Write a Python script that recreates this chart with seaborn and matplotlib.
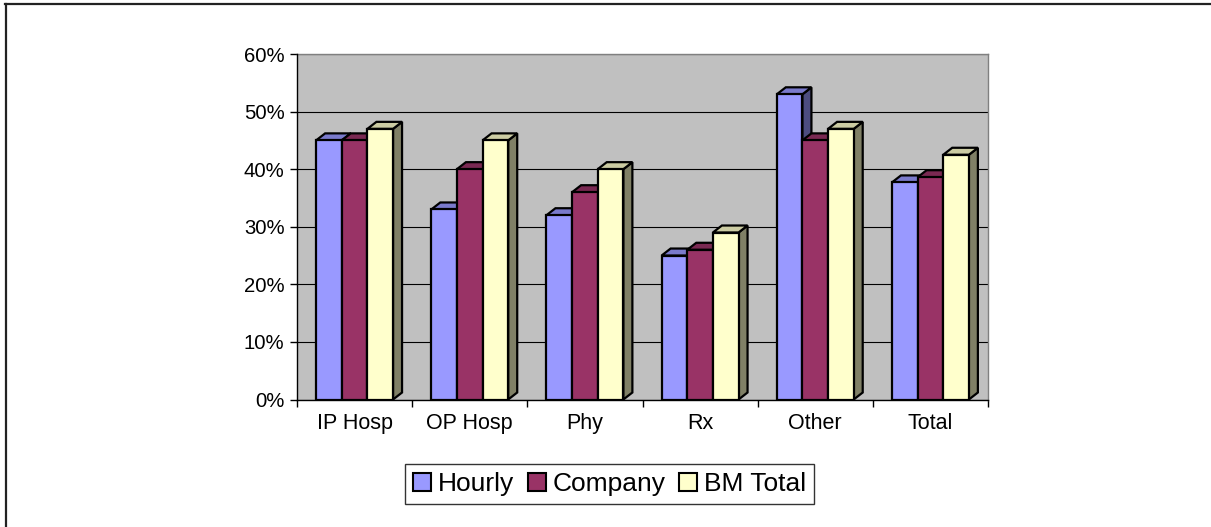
import numpy as np
import pandas as pd
import matplotlib
matplotlib.use("Agg")
import matplotlib.pyplot as plt
import seaborn as sns
from matplotlib.patches import Polygon, Patch
from matplotlib.ticker import PercentFormatter, FixedLocator
from matplotlib.lines import Line2D
import matplotlib.colors as mcolors

# ---- data ----
categories = ["IP Hosp", "OP Hosp", "Phy", "Rx", "Other", "Total"]
series_names = ["Hourly", "Company", "BM Total"]
hourly = [45, 33, 32, 25, 53, 37.7]
company = [45, 40, 36, 26, 45, 38.6]
bm_total = [47, 45, 40, 29, 47, 42.5]
y_ticks = [0, 10, 20, 30, 40, 50, 60]

colors = ["#9999FF", "#993366", "#FFFFCC"]

df = pd.DataFrame({
    "Category": categories * 3,
    "Series": [s for s in series_names for _ in categories],
    "Value": hourly + company + bm_total,
})

plt.rcParams['font.family'] = ['Liberation Sans', 'DejaVu Sans']

W, H = 1211, 527
fig = plt.figure(figsize=(W / 100, H / 100), dpi=100)
left, right, top, bottom = 297, 988, 54, 399.5
ax = fig.add_axes([left / W, 1 - bottom / H, (right - left) / W, (bottom - top) / H])
ax.set_facecolor("#C0C0C0")

sns.barplot(data=df, x="Category", y="Value", hue="Series", order=categories,
            hue_order=series_names, palette=colors, width=0.668, gap=0,
            edgecolor="black", linewidth=1.6, saturation=1, legend=False,
            errorbar=None, ax=ax)

ax.set_xlim(-0.5, len(categories) - 0.5)
ax.set_ylim(0, 60)

# 3D faces derived from the bar patches
dx = 9 / ((right - left) / len(categories))
dy = 7 * 60 / (bottom - top)

def shade(c, f):
    r, g, b = mcolors.to_rgb(c)
    return (r * f, g * f, b * f)

for k, cont in enumerate(ax.containers):
    base = 3 + 3 * k
    for p in cont.patches:
        x0, w, h = p.get_x(), p.get_width(), p.get_height()
        p.set_zorder(base + 2)
        side = Polygon([(x0 + w, 0), (x0 + w + dx, dy), (x0 + w + dx, h + dy), (x0 + w, h)],
                       closed=True, facecolor=shade(colors[k], 0.5), edgecolor="black",
                       linewidth=1.6, zorder=base, clip_on=False, joinstyle="miter")
        topf = Polygon([(x0, h), (x0 + dx, h + dy), (x0 + w + dx, h + dy), (x0 + w, h)],
                       closed=True, facecolor=shade(colors[k], 0.8), edgecolor="black",
                       linewidth=1.6, zorder=base + 1, clip_on=False, joinstyle="miter")
        ax.add_patch(side)
        ax.add_patch(topf)

# axes styling
ax.set_axisbelow(True)
ax.yaxis.grid(True, color="black", linewidth=0.8)
ax.xaxis.grid(False)
ax.set_yticks(y_ticks)
ax.yaxis.set_major_formatter(PercentFormatter(decimals=0))
ax.set_xlabel("")
ax.set_ylabel("")
for s in ["left", "bottom"]:
    ax.spines[s].set_color("black")
    ax.spines[s].set_linewidth(1.0)
    ax.spines[s].set_zorder(20)
for s in ["top", "right"]:
    ax.spines[s].set_color("#808080")
    ax.spines[s].set_linewidth(1.0)

ax.tick_params(axis="y", direction="out", length=5, width=1, color="black",
               labelsize=14.6, pad=4)
ax.tick_params(axis="x", which="major", length=0, labelsize=15.5, pad=9.5)
ax.xaxis.set_minor_locator(FixedLocator(np.arange(-0.5, len(categories), 1.0)))
ax.tick_params(axis="x", which="minor", direction="out", length=5, width=1, color="black")

# legend
handles = [Patch(facecolor=c, edgecolor="black", linewidth=1.5, label=n)
           for c, n in zip(colors, series_names)]
leg = fig.legend(handles=handles, loc="center", bbox_to_anchor=(609.5 / W, 1 - 484 / H),
                 ncol=3, fontsize=19, frameon=True, fancybox=False, edgecolor="black",
                 handlelength=0.7, handleheight=0.7, handletextpad=0.25,
                 columnspacing=0.5, borderpad=0.3, borderaxespad=0)
leg.get_frame().set_linewidth(1.0)

# chart border (cropped at right/bottom)
fig.add_artist(Line2D([5.8 / W, 5.8 / W], [0, 1 - 4 / H], transform=fig.transFigure,
                      color="#222222", linewidth=1.6))
fig.add_artist(Line2D([5 / W, 1], [1 - 4.3 / H, 1 - 4.3 / H], transform=fig.transFigure,
                      color="#222222", linewidth=1.6))

fig.savefig("out.png", dpi=100)
